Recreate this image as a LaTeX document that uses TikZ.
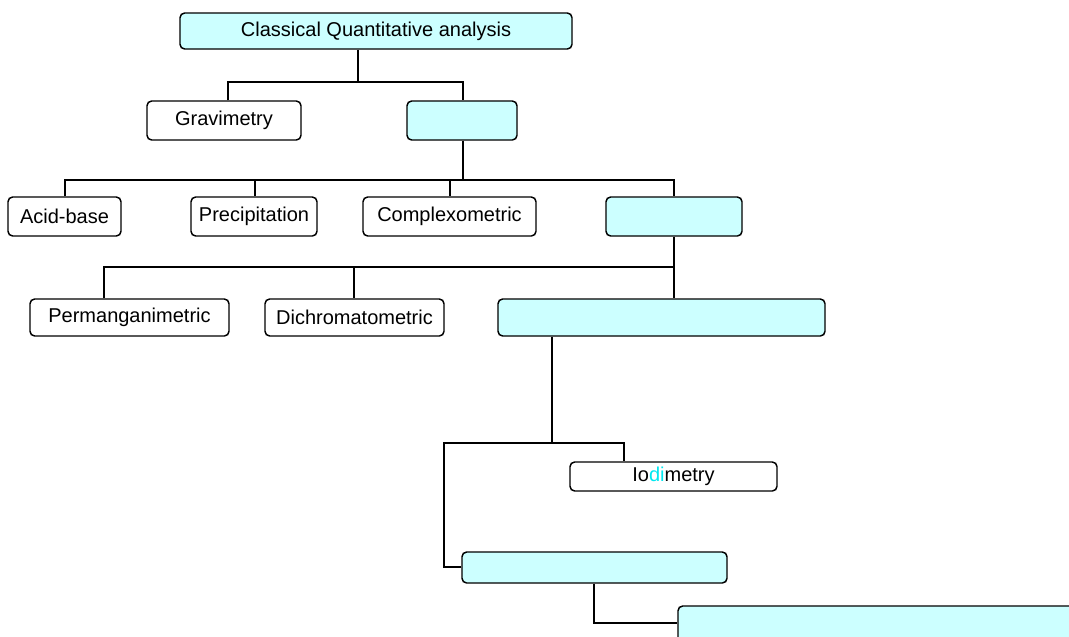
\documentclass[tikz,border=0pt]{standalone}
\usepackage{fontspec}
\setmainfont{Liberation Sans}
\definecolor{boxcyan}{HTML}{CCFFFF}
\definecolor{textcyan}{HTML}{00E8F0}
\begin{document}
\begin{tikzpicture}[x=0.75pt,y=-0.75pt,
  box/.style={draw=black, line width=1.1pt, rounded corners=3.5pt, fill=white,
    inner sep=0pt, font=\fontsize{15}{18}\selectfont, text=black},
  cbox/.style={box, fill=boxcyan},
  wire/.style={draw=black, line width=1.6pt},
  trunk/.style={draw=black, line width=2.2pt}]
\useasboundingbox (0,0) rectangle (1069,636);
\clip (0,0) rectangle (1069,636);
% nodes
\node[cbox, minimum width=392*0.75pt, minimum height=36*0.75pt] (top) at (376,31) {Classical Quantitative analysis};
\node[box,  minimum width=154*0.75pt, minimum height=39*0.75pt] (grav) at (224,120.5) {Gravimetry};
\node[cbox, minimum width=110*0.75pt, minimum height=39*0.75pt] (b2) at (462,120.5) {};
\node[box,  minimum width=113*0.75pt, minimum height=39*0.75pt] (acid) at (64.5,216.5) {Acid-base};
\node[box,  minimum width=126*0.75pt, minimum height=39*0.75pt] (prec) at (254,216.5) {Precipitation};
\node[box,  minimum width=173*0.75pt, minimum height=39*0.75pt] (comp) at (449.5,216.5) {Complexometric};
\node[cbox, minimum width=136*0.75pt, minimum height=39*0.75pt] (b4) at (674,216.5) {};
\node[box,  minimum width=199*0.75pt, minimum height=37*0.75pt] (perm) at (129.5,317.5) {Permanganimetric};
\node[box,  minimum width=179*0.75pt, minimum height=37*0.75pt] (dich) at (354.5,317.5) {Dichromatometric};
\node[cbox, minimum width=327*0.75pt, minimum height=37*0.75pt] (b6) at (661.5,317.5) {};
\node[box,  minimum width=207*0.75pt, minimum height=29*0.75pt] (iod) at (673.5,476.5) {Io\textcolor{textcyan}{di}metry};
\node[cbox, minimum width=265*0.75pt, minimum height=31*0.75pt] (b8) at (594.5,567.5) {};
\node[cbox, minimum width=402*0.75pt, minimum height=54*0.75pt] (b9) at (879,633) {};
% junction coordinates
\coordinate (j1) at (358,82);
\coordinate (d1a) at (228,82);
\coordinate (d1b) at (463,82);
\coordinate (j2) at (463,180);
\coordinate (d2a) at (65,180);
\coordinate (d2b) at (255,180);
\coordinate (d2c) at (450,180);
\coordinate (d2d) at (674,180);
\coordinate (j3) at (674,267);
\coordinate (d3a) at (104,267);
\coordinate (d3b) at (354,267);
\coordinate (j4) at (552,443);
\coordinate (d4a) at (444,443);
\coordinate (d4b) at (624,443);
\coordinate (e4) at (444,567);
\coordinate (j5) at (594,623);
% connectors
\begin{scope}[on background layer/.style={}]
\draw[trunk] (top.south -| j1) -- (j1);
\draw[wire] (d1a |- grav.north) -- (d1a) -- (d1b) -- (d1b |- b2.north);
\draw[trunk] (b2.south -| j2) -- (j2);
\draw[wire] (d2a |- acid.north) -- (d2a) -- (d2d) -- (d2d |- b4.north);
\draw[trunk] (d2b) -- (j2);
\draw[wire] (d2b) -- (d2b |- prec.north);
\draw[wire] (d2c) -- (d2c |- comp.north);
\draw[trunk] (b4.south -| j3) -- (j3);
\draw[wire] (d3a |- perm.north) -- (d3a) -- (j3) -- (j3 |- b6.north);
\draw[trunk] (d3b) -- (j3);
\draw[wire] (d3b) -- (d3b |- dich.north);
\draw[trunk] (b6.south -| j4) -- (j4);
\draw[wire] (b8.west |- e4) -- (e4) -- (d4a) -- (d4b) -- (d4b |- iod.north);
\draw[wire] (b8.south -| j5) -- (j5) -- (j5 -| b9.west);
\end{scope}
\end{tikzpicture}
\end{document}
